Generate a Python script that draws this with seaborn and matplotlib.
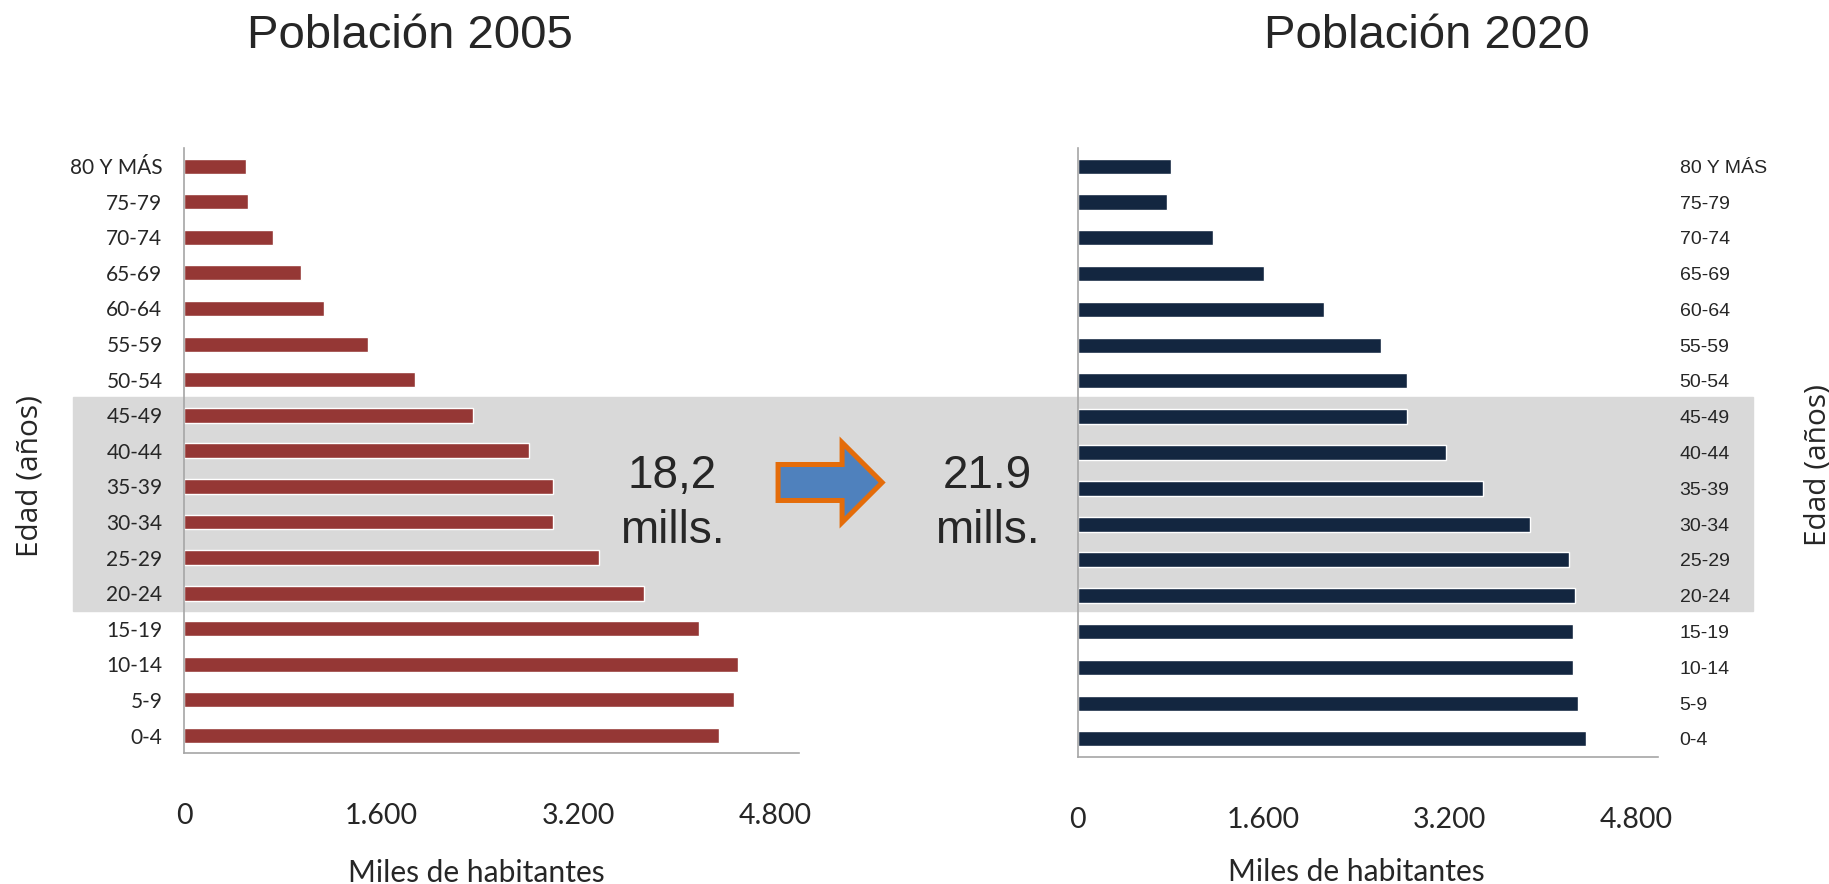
import matplotlib
matplotlib.use("Agg")
import matplotlib.pyplot as plt
import matplotlib.patches as mpatches
import seaborn as sns

# grupos de edad, de arriba hacia abajo
grupos = ["80 Y MÁS", "75-79", "70-74", "65-69", "60-64", "55-59", "50-54",
          "45-49", "40-44", "35-39", "30-34", "25-29", "20-24",
          "15-19", "10-14", "5-9", "0-4"]
# miles de habitantes
pob_2005 = [501, 518, 721, 951, 1137, 1494, 1876, 2343, 2801, 2992, 2992,
            3365, 3730, 4180, 4494, 4465, 4342]
pob_2020 = [800, 768, 1164, 1600, 2118, 2609, 2832, 2832, 3168, 3486, 3886,
            4222, 4277, 4259, 4259, 4300, 4368]
ticks_x = [0, 1600, 3200, 4800]
ticks_lbl = ["0", "1.600", "3.200", "4.800"]
titulos = ["Población 2005", "Población 2020"]
totales = ["18,2", "21.9"]
franja = ["45-49", "20-24"]  # grupos resaltados con el fondo gris

sns.set_theme(style="white")
plt.rcParams['font.family'] = ['Liberation Sans', 'DejaVu Sans']

fig = plt.figure(figsize=(18.29, 8.84), dpi=100)
ax1 = fig.add_axes([0.1006, 0.1478, 0.3363, 0.6844])
ax2 = fig.add_axes([0.5892, 0.1440, 0.3173, 0.6882])

sns.barplot(x=pob_2005, y=grupos, orient='h', color='#953735', saturation=1,
            width=0.42, ax=ax1)
sns.barplot(x=pob_2020, y=grupos, orient='h', color='#132640', saturation=1,
            width=0.42, ax=ax2)

for ax, ysize in [(ax1, 15), (ax2, 14)]:
    ax.set_facecolor('none')
    ax.set_xlim(0, 4990)
    ax.set_ylim(len(grupos) - 0.5, -0.5)
    ax.set_xticks(ticks_x)
    ax.set_xticklabels(ticks_lbl)
    for s in ['top', 'right']:
        ax.spines[s].set_visible(False)
    for s in ['left', 'bottom']:
        ax.spines[s].set_color('#a6a6a6')
        ax.spines[s].set_linewidth(1.2)
    ax.tick_params(axis='x', length=0, pad=36, labelsize=20.5)
    ax.tick_params(axis='y', length=0, pad=15.5, labelsize=ysize)
    for tl in ax.get_xticklabels() + ax.get_yticklabels():
        tl.set_fontfamily('Lato')
    ax.set_xlabel("Miles de habitantes", fontsize=21.6, fontfamily='Lato')
    ax.set_ylabel("")

ax2.yaxis.tick_right()
ax1.xaxis.set_label_coords(0.4756, -0.1747)
ax2.xaxis.set_label_coords(0.481, -0.1665)

# etiquetas de edad a ambos lados
fig.text(37 / 1829, 1 - 476 / 884, "Edad (años)", rotation=90, rotation_mode='anchor',
         ha='center', va='baseline', fontsize=21.5, family=['Open Sans', 'DejaVu Sans'])
fig.text(1825 / 1829, 1 - 465 / 884, "Edad (años)", rotation=90, rotation_mode='anchor',
         ha='center', va='baseline', fontsize=21.5, family=['Open Sans', 'DejaVu Sans'])

# franja gris detras de los grupos resaltados
to_fig = ax1.transData + fig.transFigure.inverted()
y_top = to_fig.transform((0, grupos.index(franja[0]) - 0.5))[1]
y_bot = to_fig.transform((0, grupos.index(franja[1]) + 0.5))[1]
fig.add_artist(mpatches.Rectangle((0.0399, y_bot), 0.9183, y_top - y_bot,
                                  transform=fig.transFigure, color='#d9d9d9',
                                  zorder=-1))

# titulos
fig.text(0.2239, 0.9455, titulos[0], ha='center', va='baseline', fontsize=34)
fig.text(0.7802, 0.9455, titulos[1], ha='center', va='baseline', fontsize=34)

# totales
for xc, tot in [(0.3674, totales[0]), (0.5396, totales[1])]:
    fig.text(xc, 1 - 488 / 884, tot, ha='center', va='baseline', fontsize=33, zorder=6)
    fig.text(xc, 1 - 543 / 884, "mills.", ha='center', va='baseline', fontsize=33, zorder=6)

# flecha
fig.add_artist(mpatches.FancyArrow(0.4254, 0.4542, 0.0569, 0, width=0.0407,
                                   head_width=0.0905, head_length=0.0219,
                                   length_includes_head=True,
                                   transform=fig.transFigure,
                                   facecolor='#4f81bd', edgecolor='#e46c0a',
                                   linewidth=3.6, zorder=5))

fig.savefig("out.png", dpi=100)
